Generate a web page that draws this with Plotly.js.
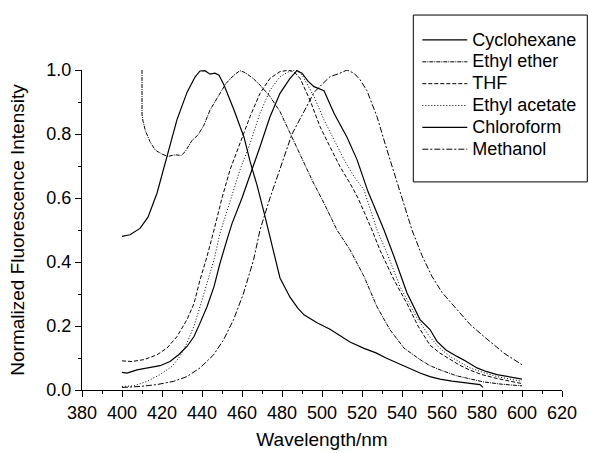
<!DOCTYPE html>
<html>
<head>
<meta charset="utf-8">
<script src="https://cdn.plot.ly/plotly-3.0.1.min.js"></script>
<style>html,body{margin:0;padding:0;background:#fff;}#chart{width:589px;height:453px;}</style>
</head>
<body>
<div id="chart"></div>
<script>
// ---- Data ----
const seriesNames = ["Cyclohexane", "Ethyl ether", "THF", "Ethyl acetate", "Chloroform", "Methanol"];

const cyclohexaneWl = [400,404,409,413,417.5,422.5,427.5,432.5,436.5,439,441.5,444,446.5,448.5,451,456,461,464,467.5,471,474,479,484,488,491,497.5,504,509,514,521,527,532,537.5,543,549,554,559,565,572,576,579,580.5];
const cyclohexaneI  = [0.48,0.485,0.505,0.54,0.615,0.73,0.845,0.93,0.978,0.997,0.998,0.987,0.99,0.984,0.953,0.875,0.79,0.715,0.64,0.555,0.475,0.35,0.29,0.255,0.235,0.21,0.19,0.17,0.15,0.13,0.116,0.1,0.084,0.068,0.053,0.042,0.034,0.028,0.023,0.02,0.017,0.008];

const etherWl = [410,410,410.5,411.7,414,416.6,420,423,426.6,429.6,431.6,435,438,441,444,449,452,456,459,461.5,465.5,469,474,479,484.5,490,495.5,501,507.5,514,521,527.5,534,541,549,554,559,567.5,574,581,590,600];
const etherI  = [1.0,0.86,0.84,0.81,0.776,0.75,0.737,0.73,0.735,0.733,0.745,0.78,0.797,0.828,0.875,0.927,0.958,0.984,0.998,0.992,0.974,0.953,0.917,0.87,0.795,0.725,0.65,0.584,0.50,0.438,0.355,0.26,0.188,0.131,0.095,0.076,0.063,0.044,0.034,0.025,0.018,0.013];

const thfWl = [400,405,411,417.5,422.5,427.5,432.5,436,439,442.5,446,450,454,459,464,469,474,479,483,486,489,494,499,504,509,514,518,525,529,536,542.5,548,554,559,564,569,574,580,587.5,594,600];
const thfI  = [0.091,0.089,0.095,0.11,0.131,0.167,0.22,0.27,0.344,0.417,0.5,0.6,0.688,0.77,0.854,0.927,0.974,0.995,0.999,0.995,0.974,0.906,0.823,0.76,0.698,0.646,0.6,0.5,0.437,0.344,0.27,0.2,0.14,0.115,0.095,0.077,0.062,0.048,0.036,0.027,0.02];

const acetateWl = [400,406,412.5,419,425,429,432.5,436,439,442.5,446,449,454,459,464,469,474,479,484,487,490,496,501,506,511,516,521,527.5,532.5,539,547.5,554,559,564,569,574,580,587.5,594,600];
const acetateI  = [0.011,0.013,0.027,0.048,0.074,0.105,0.147,0.2,0.26,0.334,0.407,0.49,0.59,0.688,0.77,0.865,0.937,0.979,0.997,1.0,0.985,0.917,0.844,0.78,0.72,0.667,0.625,0.5,0.428,0.323,0.225,0.165,0.13,0.105,0.086,0.069,0.056,0.042,0.034,0.027];

const chloroformWl = [400,402.5,407.5,414,419,424,428.3,432.5,436,439,442.5,446,449,452.5,455,460,465,469,474,479,484,487.5,490,493,496,499,501,506,512.5,517.5,521,523,527,531,536,542.5,549,554,557.5,562,567.5,572,577.5,582,587.5,594,600];
const chloroformI  = [0.055,0.053,0.063,0.07,0.076,0.089,0.11,0.136,0.167,0.209,0.26,0.323,0.396,0.47,0.52,0.6,0.688,0.76,0.854,0.927,0.974,0.998,0.99,0.965,0.948,0.94,0.935,0.865,0.79,0.72,0.656,0.62,0.56,0.5,0.417,0.303,0.22,0.189,0.152,0.125,0.105,0.09,0.069,0.058,0.048,0.04,0.034];

const methanolWl = [400,409,417.5,425.8,432.5,439,445.8,450.8,455.8,460.8,465.8,469,474,479,485,491,496,500,504,509,512.5,516,519,522.5,527.5,532.5,537.5,541,545,550,555,560,567.5,574,581,586,591,596,600];
const methanolI  = [0.008,0.011,0.017,0.027,0.042,0.069,0.11,0.157,0.22,0.303,0.407,0.5,0.6,0.69,0.8,0.87,0.93,0.955,0.979,0.99,1.0,0.99,0.97,0.935,0.854,0.75,0.65,0.58,0.5,0.42,0.355,0.305,0.25,0.205,0.167,0.14,0.115,0.095,0.079];

const xTicks = [380,400,420,440,460,480,500,520,540,560,580,600,620];
const yTicks = [0.0,0.2,0.4,0.6,0.8,1.0];

// ---- Styles ----
const dashes = ["solid", "4px,1px,1px,1px", "4px,2px", "1px,2px", "solid", "6px,2px,2px,2px"];
const xs = [cyclohexaneWl, etherWl, thfWl, acetateWl, chloroformWl, methanolWl];
const ys = [cyclohexaneI, etherI, thfI, acetateI, chloroformI, methanolI];

const traces = seriesNames.map((n, i) => ({
  type: "scatter", mode: "lines",
  name: '<span style="font-size:18px">' + n + '</span>',
  x: xs[i], y: ys[i],
  line: {color: "#000", width: (dashes[i] === "solid" ? 1.2 : 1), dash: dashes[i]}
}));

const FONT = "Liberation Sans, Arial, Helvetica, sans-serif";
const px2x = p => (p - 81.7) / 480;
const px2y = p => (390.3 - p) / 320.3;

const layout = {
  width: 589, height: 453,
  margin: {l: 82, r: 27, t: 70, b: 63, autoexpand: false},
  paper_bgcolor: "#fff", plot_bgcolor: "#fff",
  font: {family: FONT, color: "#000", size: 18},
  showlegend: true,
  xaxis: {
    range: [380, 620], tickmode: "array", tickvals: xTicks, ticktext: xTicks.map(String),
    showline: true, linecolor: "#000", linewidth: 1, mirror: false,
    ticks: "outside", ticklen: 6, tickwidth: 1, tickcolor: "#000",
    minor: {dtick: 10, tick0: 380, ticks: "outside", ticklen: 3, tickwidth: 1, tickcolor: "#000", showgrid: false},
    showgrid: false, zeroline: false,
    tickfont: {family: FONT, size: 18, color: "#000"},
    title: {text: "Wavelength/nm", font: {family: FONT, size: 19, color: "#000"}, standoff: 11}
  },
  yaxis: {
    range: [0, 1.0], tickmode: "array", tickvals: yTicks, ticktext: yTicks.map(v => v.toFixed(1)),
    showline: true, linecolor: "#000", linewidth: 1, mirror: false,
    ticks: "outside", ticklen: 6, tickwidth: 1, tickcolor: "#000",
    minor: {dtick: 0.1, tick0: 0, ticks: "outside", ticklen: 3, tickwidth: 1, tickcolor: "#000", showgrid: false},
    showgrid: false, zeroline: false,
    tickfont: {family: FONT, size: 18, color: "#000"},
    title: {text: "Normalized Fluorescence Intensity", font: {family: FONT, size: 19, color: "#000"}, standoff: 16}
  },
  legend: {
    x: px2x(417), y: px2y(24), xanchor: "left", yanchor: "top",
    bgcolor: "rgba(0,0,0,0)", borderwidth: 0,
    font: {family: FONT, size: 14.5, color: "#000"},
    itemwidth: 45, tracegroupgap: 0
  },
  shapes: [{
    type: "rect", xref: "paper", yref: "paper",
    x0: px2x(413), x1: px2x(587), y0: px2y(182), y1: px2y(15),
    line: {color: "#000", width: 1}, fillcolor: "rgba(0,0,0,0)"
  }]
};

Plotly.newPlot("chart", traces, layout, {displayModeBar: false, staticPlot: true});
</script>
</body>
</html>
